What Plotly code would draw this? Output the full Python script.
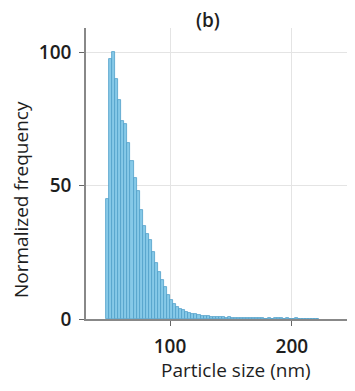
import plotly.graph_objects as go

bin_start = 47.5
bin_width = 2.5
heights = [45, 97.5, 100, 90, 82, 74, 73, 66, 59, 53, 48, 41, 35, 32, 29.5, 25, 21,
           17.5, 14.5, 12, 9, 7, 5.5, 4.5, 3.8, 3.2, 2.7, 2.3, 2.0, 1.7, 1.5, 1.3, 1.1,
           1.0, 0.9, 0.8, 0.8, 0.7, 0.6, 0.5, 0.6, 0.4, 0.5, 0.3, 0.4, 0.3, 0.3, 0.2,
           0.3, 0.2, 0.2, 0.3, 0.1, 0.2, 0.1, 0.2, 0.4, 0.2, 0.1, 0.2, 0.1, 0.1, 0.2,
           0.1, 0.1, 0.1, 0.1, 0.1, 0.1, 0.1]
centers = [bin_start + bin_width * (i + 0.5) for i in range(len(heights))]

x_ticks = [100, 200]
y_ticks = [0, 50, 100]

fig = go.Figure()
fig.add_trace(go.Bar(
    x=centers, y=heights, width=bin_width,
    marker=dict(color="#86c9e8", line=dict(color="#4f9ec8", width=0.8)),
))

font = "Open Sans, Noto Sans, sans-serif"
txt = "#1e1e1e"
# page body has an 8px margin; figure is sized so the page does not scroll
OFF = 8
W, H = 355 - OFF, 391 - 2 * OFF
L, R, T = 86 - OFF, 1, 28 - OFF
B = H - (319 - OFF)
fig.update_layout(
    width=W, height=H,
    margin=dict(l=L, r=R, t=T, b=B),
    paper_bgcolor="white", plot_bgcolor="white",
    showlegend=False,
    bargap=0,
    font=dict(family=font, color=txt),
)
fig.update_xaxes(
    range=[31, 251], tickvals=x_ticks, ticktext=[str(v) for v in x_ticks],
    showgrid=True, gridcolor="#e4e4e4", gridwidth=1,
    showline=True, linecolor="#888", linewidth=1.5,
    ticks="outside", ticklen=5, tickcolor="#666",
    tickfont=dict(size=19, family=font, color=txt, weight=600),
    ticklabelstandoff=4,
    automargin=False, zeroline=False,
)
fig.update_yaxes(
    range=[0, 109], tickvals=y_ticks, ticktext=[str(v) for v in y_ticks],
    showgrid=True, gridcolor="#e4e4e4", gridwidth=1,
    showline=True, linecolor="#888", linewidth=1.5,
    ticks="outside", ticklen=5, tickcolor="#666",
    tickfont=dict(size=19, family=font, color=txt, weight=600),
    ticklabelstandoff=4,
    automargin=False, zeroline=False,
)
pw, ph = W - L - R, H - T - B
def px(x):  # screen pixel -> paper
    return (x - OFF - L) / pw
def py(y):
    return (H - B - (y - OFF)) / ph

fig.add_annotation(text="(b)", xref="paper", yref="paper", x=px(208), y=py(20),
                   showarrow=False, xanchor="center", yanchor="middle",
                   font=dict(size=19, family=font, color=txt, weight=600))
fig.add_annotation(text="Particle size (nm)", xref="paper", yref="paper", x=px(236), y=py(370),
                   showarrow=False, xanchor="center", yanchor="middle",
                   font=dict(size=19, family=font, color=txt, weight=500))
fig.add_annotation(text="Normalized frequency", xref="paper", yref="paper", x=px(21), y=py(200),
                   showarrow=False, xanchor="center", yanchor="middle", textangle=-90,
                   font=dict(size=19, family=font, color=txt, weight=500))
fig.add_shape(type="line", xref="paper", yref="paper", x0=1, x1=1, y0=0, y1=py(15),
              line=dict(color="#7f9fc0", width=2))
fig.write_html("out.html")
